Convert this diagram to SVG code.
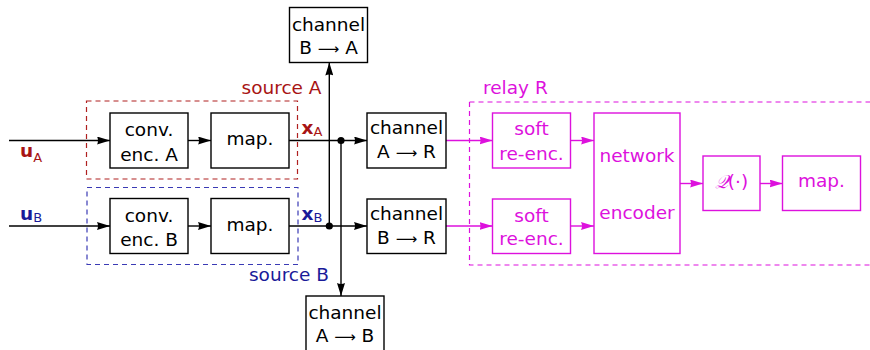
<svg xmlns="http://www.w3.org/2000/svg" width="870" height="350" viewBox="0 0 870 350">
  <defs>
    <marker id="arrK" viewBox="0 0 13 8" refX="13" refY="4" markerWidth="13" markerHeight="8" markerUnits="userSpaceOnUse" orient="auto">
      <path d="M0,0 L13,4 L0,8 Q2,4 0,0 z" fill="#000"/>
    </marker>
    <marker id="arrM" viewBox="0 0 13 8" refX="13" refY="4" markerWidth="13" markerHeight="8" markerUnits="userSpaceOnUse" orient="auto">
      <path d="M0,0 L13,4 L0,8 Q2,4 0,0 z" fill="#dd11dd"/>
    </marker>
  </defs>
  <style>
    text { font-family: "DejaVu Sans", "Liberation Sans", sans-serif; font-size: 18.5px; }
    .box { fill: #fff; stroke: #000; stroke-width: 1.4; }
    .mbox { fill: #fff; stroke: #dd11dd; stroke-width: 1.4; }
    .t { text-anchor: middle; fill: #000; }
    .mt { text-anchor: middle; fill: #dd11dd; }
    .wire { fill: none; stroke: #000; stroke-width: 1.4; }
    .mwire { fill: none; stroke: #dd11dd; stroke-width: 1.4; }
    .dash { fill: none; stroke-width: 1.2; stroke-dasharray: 5 4; }
    .red { fill: #a81414; }
    .blue { fill: #1a1a99; }
    .mag { fill: #dd11dd; }
    .sub { font-size: 13px; }
    .bold { font-weight: bold; }
    .arw { font-family: "DejaVu Sans", sans-serif; font-size: 15px; }
  </style>

  <!-- grouping frames -->
  <g id="frame-source-a">
    <rect class="dash" x="86.5" y="101" width="211" height="78" stroke="#b02020"/>
    <text class="red" x="321.5" y="93.5" text-anchor="end">source A</text>
  </g>
  <g id="frame-source-b">
    <rect class="dash" x="87" y="187.5" width="211" height="77" stroke="#3a3ab5"/>
    <text class="blue" x="329" y="281" text-anchor="end">source B</text>
  </g>
  <g id="frame-relay">
    <path class="dash" d="M469.5,102 H872 M469.5,102 V265 H872" stroke="#dd11dd" stroke-width="1.4"/>
    <text class="mag" x="483" y="94">relay R</text>
  </g>

  <!-- connectors -->
  <g id="connectors">
    <line class="wire" x1="9" y1="140.5" x2="110" y2="140.5" marker-end="url(#arrK)"/>
    <line class="wire" x1="188" y1="140.5" x2="211" y2="140.5" marker-end="url(#arrK)"/>
    <line class="wire" x1="289" y1="140.5" x2="367" y2="140.5" marker-end="url(#arrK)"/>
    <line class="wire" x1="9" y1="226" x2="110" y2="226" marker-end="url(#arrK)"/>
    <line class="wire" x1="188" y1="226" x2="211" y2="226" marker-end="url(#arrK)"/>
    <line class="wire" x1="289" y1="226" x2="367" y2="226" marker-end="url(#arrK)"/>
    <line class="wire" x1="329.3" y1="226" x2="329.3" y2="62.5" marker-end="url(#arrK)"/>
    <line class="wire" x1="341" y1="140.5" x2="341" y2="296" marker-end="url(#arrK)"/>
    <circle cx="341" cy="140.5" r="3.6" fill="#000"/>
    <circle cx="329.3" cy="226" r="3.6" fill="#000"/>

    <line class="mwire" x1="446" y1="140.5" x2="492.5" y2="140.5" marker-end="url(#arrM)"/>
    <line class="mwire" x1="446" y1="226" x2="492.5" y2="226" marker-end="url(#arrM)"/>
    <line class="mwire" x1="570.5" y1="140.5" x2="594" y2="140.5" marker-end="url(#arrM)"/>
    <line class="mwire" x1="570.5" y1="226" x2="594" y2="226" marker-end="url(#arrM)"/>
    <line class="mwire" x1="680" y1="183.5" x2="703" y2="183.5" marker-end="url(#arrM)"/>
    <line class="mwire" x1="760" y1="183.5" x2="782.5" y2="183.5" marker-end="url(#arrM)"/>

    <!-- signal labels -->
    <text class="red" x="20" y="157"><tspan class="bold">u</tspan><tspan class="sub" dy="5">A</tspan></text>
    <text class="blue" x="20" y="220"><tspan class="bold">u</tspan><tspan class="sub" dy="2">B</tspan></text>
    <text class="red" x="301.5" y="134"><tspan class="bold">x</tspan><tspan class="sub" dy="2">A</tspan></text>
    <text class="blue" x="301.5" y="219.5"><tspan class="bold">x</tspan><tspan class="sub" dy="2">B</tspan></text>
  </g>

  <!-- source A -->
  <g id="conv-enc-a">
    <rect class="box" x="110" y="113" width="78" height="55"/>
    <text class="t" x="149" y="136">conv.</text>
    <text class="t" x="149" y="160.5">enc. A</text>
  </g>
  <g id="map-a">
    <rect class="box" x="211" y="113" width="78" height="55"/>
    <text class="t" x="250" y="145">map.</text>
  </g>

  <!-- source B -->
  <g id="conv-enc-b">
    <rect class="box" x="110" y="198.5" width="78" height="55"/>
    <text class="t" x="149" y="221.5">conv.</text>
    <text class="t" x="149" y="246">enc. B</text>
  </g>
  <g id="map-b">
    <rect class="box" x="211" y="198.5" width="78" height="55"/>
    <text class="t" x="250" y="230.5">map.</text>
  </g>

  <!-- channels -->
  <g id="channel-b-a">
    <rect class="box" x="289.5" y="7.5" width="78" height="55"/>
    <text class="t" x="328.5" y="30.5">channel</text>
    <text class="t" x="328.5" y="54">B <tspan class="arw">⟶</tspan> A</text>
  </g>
  <g id="channel-a-b">
    <rect class="box" x="306" y="296" width="78" height="57"/>
    <text class="t" x="345" y="319">channel</text>
    <text class="t" x="345" y="342">A <tspan class="arw">⟶</tspan> B</text>
  </g>
  <g id="channel-a-r">
    <rect class="box" x="367" y="113" width="79" height="55"/>
    <text class="t" x="406.5" y="133.5">channel</text>
    <text class="t" x="406.5" y="157.5">A <tspan class="arw">⟶</tspan> R</text>
  </g>
  <g id="channel-b-r">
    <rect class="box" x="367" y="199" width="79" height="54.5"/>
    <text class="t" x="406.5" y="219.5">channel</text>
    <text class="t" x="406.5" y="243.5">B <tspan class="arw">⟶</tspan> R</text>
  </g>

  <!-- relay -->
  <g id="soft-reenc-a">
    <rect class="mbox" x="492.5" y="113" width="78" height="55"/>
    <text class="mt" x="531.5" y="135">soft</text>
    <text class="mt" x="531.5" y="159.5">re-enc.</text>
  </g>
  <g id="soft-reenc-b">
    <rect class="mbox" x="492.5" y="199" width="78" height="54.5"/>
    <text class="mt" x="531.5" y="221.5">soft</text>
    <text class="mt" x="531.5" y="245">re-enc.</text>
  </g>
  <g id="network-encoder">
    <rect class="mbox" x="594" y="113" width="86" height="140.5"/>
    <text class="mt" x="637" y="161.5">network</text>
    <text class="mt" x="637" y="218.5">encoder</text>
  </g>
  <g id="quantizer">
    <rect class="mbox" x="703" y="156" width="57" height="54.5"/>
    <text class="mt" x="731.5" y="188"><tspan font-family="'DejaVu Serif', serif" font-style="italic">𝒬</tspan>(·)</text>
  </g>
  <g id="map-r">
    <rect class="mbox" x="782.5" y="156" width="78" height="54.5"/>
    <text class="mt" x="821.5" y="187">map.</text>
  </g>
</svg>
